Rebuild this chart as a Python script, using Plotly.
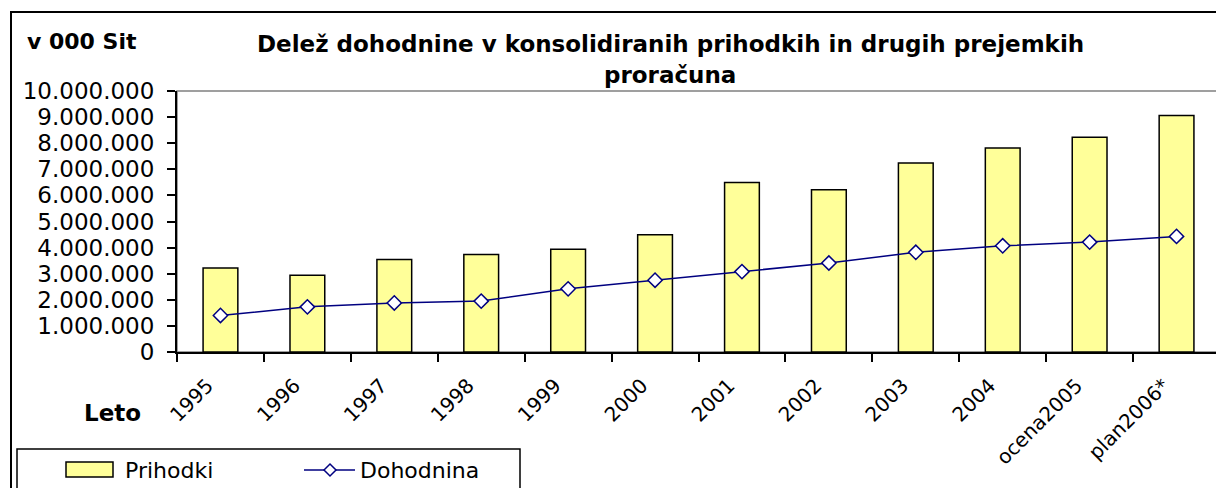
import plotly.graph_objects as go

categories = ["1995", "1996", "1997", "1998", "1999", "2000", "2001", "2002",
              "2003", "2004", "ocena2005", "plan2006*"]
prihodki = [3220000, 2940000, 3540000, 3740000, 3940000, 4490000, 6490000,
            6220000, 7240000, 7820000, 8230000, 9060000]
dohodnina = [1400000, 1730000, 1880000, 1950000, 2420000, 2750000, 3080000,
             3410000, 3820000, 4070000, 4210000, 4430000]
series_names = ["Prihodki", "Dohodnina"]

FONT = "DejaVu Sans"
W, H = 1224, 488
OFF = 8  # page body margin offset in the screenshot
# plot area in reference-screenshot pixels: x 177..1220, y 91..352
L = 177 - OFF
R = W - (1220 - OFF)
T = 91 - OFF
B = H - (352 - OFF)
PW = W - L - R
PH = H - T - B
BAR_COLOR = "#FFFF99"
LINE_COLOR = "#000080"

def px(x):
    return (x - OFF - L) / PW

def py(y):
    return (H - B - (y - OFF)) / PH

fig = go.Figure()
fig.add_trace(go.Bar(
    x=categories, y=prihodki, name=series_names[0],
    marker=dict(color=BAR_COLOR, line=dict(color="black", width=1.5)),
    width=0.4,
))
fig.add_trace(go.Scatter(
    x=categories, y=dohodnina, name=series_names[1], mode="lines+markers",
    line=dict(color=LINE_COLOR, width=1.5),
    marker=dict(symbol="diamond", size=11, color="white",
                line=dict(color=LINE_COLOR, width=1.5)),
))

# hand-drawn legend (Excel style wide swatch)
ly = 470
d = 6
legend_shapes = [
    dict(type="rect", xref="paper", yref="paper", x0=px(17), x1=px(520),
         y0=py(449), y1=py(530), line=dict(color="black", width=1.5),
         fillcolor="white", layer="above"),
    dict(type="rect", xref="paper", yref="paper", x0=px(66), x1=px(113),
         y0=py(462), y1=py(477), line=dict(color="black", width=1.5),
         fillcolor=BAR_COLOR, layer="above"),
    dict(type="line", xref="paper", yref="paper", x0=px(304), x1=px(355),
         y0=py(ly), y1=py(ly), line=dict(color=LINE_COLOR, width=1.5),
         layer="above"),
    dict(type="path", xref="paper", yref="paper",
         path=(f"M {px(330-d)} {py(ly)} L {px(330)} {py(ly-d)} "
               f"L {px(330+d)} {py(ly)} L {px(330)} {py(ly+d)} Z"),
         line=dict(color=LINE_COLOR, width=1.5), fillcolor="white",
         layer="above"),
]

fig.update_layout(
    width=W, height=H,
    margin=dict(l=L, r=R, t=T, b=B, autoexpand=False),
    paper_bgcolor="white", plot_bgcolor="white",
    separators=",.",
    font=dict(family=FONT, size=21, color="black"),
    showlegend=False,
    xaxis=dict(
        type="category", range=[-0.5, len(categories) - 0.5],
        showline=True, linecolor="black", linewidth=2,
        ticks="outside", ticklen=8, tickcolor="black", tickwidth=2,
        tickson="boundaries", tickangle=-45, showgrid=False,
        tickfont=dict(family=FONT, size=20), ticklabelstandoff=12,
        ticklabelshift=-13, automargin=False,
    ),
    yaxis=dict(
        range=[0, 10000000], dtick=1000000, tickformat=",d",
        showline=True, linecolor="black", linewidth=2,
        ticks="outside", ticklen=8, tickcolor="black", tickwidth=2,
        showgrid=False, zeroline=False, automargin=False,
        tickfont=dict(family=FONT, size=23), ticklabelstandoff=8,
    ),
    bargap=0.6,
    shapes=[
        dict(type="rect", xref="paper", yref="paper", x0=0, x1=1, y0=0, y1=1,
             line=dict(color="#808080", width=1.5), layer="below"),
        dict(type="rect", xref="paper", yref="paper", x0=px(11), x1=px(1260),
             y0=py(12), y1=py(540), line=dict(color="black", width=2),
             layer="below"),
    ] + legend_shapes,
    annotations=[
        dict(text="<b>v 000 Sit</b>", xref="paper", yref="paper",
             x=px(25), y=py(42), xanchor="left", yanchor="middle",
             showarrow=False, font=dict(family=FONT, size=22)),
        dict(text="<b>Delež dohodnine v konsolidiranih prihodkih in drugih prejemkih</b>",
             xref="paper", yref="paper", x=px(670), y=py(44),
             xanchor="center", yanchor="middle", showarrow=False,
             font=dict(family=FONT, size=23)),
        dict(text="<b>proračuna</b>",
             xref="paper", yref="paper", x=px(670), y=py(75),
             xanchor="center", yanchor="middle", showarrow=False,
             font=dict(family=FONT, size=23)),
        dict(text="<b>Leto</b>", xref="paper", yref="paper",
             x=px(143), y=py(413), xanchor="right", yanchor="middle",
             showarrow=False, font=dict(family=FONT, size=23)),
        dict(text=series_names[0], xref="paper", yref="paper",
             x=px(123), y=py(ly), xanchor="left", yanchor="middle",
             showarrow=False, font=dict(family=FONT, size=22)),
        dict(text=series_names[1], xref="paper", yref="paper",
             x=px(358), y=py(ly), xanchor="left", yanchor="middle",
             showarrow=False, font=dict(family=FONT, size=22)),
    ],
)

fig.write_html("out.html")
